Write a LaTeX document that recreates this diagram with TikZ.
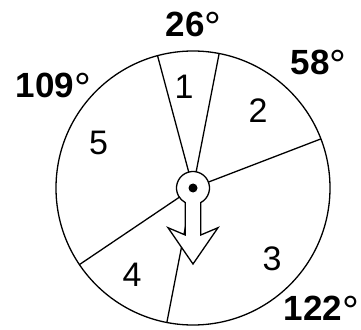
\documentclass[tikz,border=0pt]{standalone}
\usepackage{fontspec}
\setmainfont{Liberation Sans}
\usetikzlibrary{positioning,calc}
\newcommand{\dg}{{\fontsize{42}{42}\selectfont\mdseries\raisebox{-5pt}[25pt][0pt]{°}}}

\begin{document}
\begin{tikzpicture}[x=1pt,y=1pt,line width=1.3pt,
  angle/.style={anchor=base west,inner sep=0pt,font=\fontsize{35}{38}\selectfont\bfseries},
  sector/.style={inner sep=0pt,font=\fontsize{34}{37}\selectfont}]
\useasboundingbox (-193,-141) rectangle (168,188);
\coordinate (c) at (0,0);
\draw (c) circle (137);
\foreach \a/\n in {21/r1,79/r2,105/r3,214/r4,259/r5}
  \coordinate (\n) at (\a:137);
\foreach \n in {r1,r2,r3,r4,r5}
  \draw (c) -- (\n);
\draw[fill=white] (-62:16.5) arc[start angle=-62,end angle=242,radius=16.5] -- (-7.75,-47) -- (-25,-39.7) -- (0,-76) -- (25,-39.7) -- (7.75,-47) -- cycle;
\fill (c) circle (4.5);
\node[sector] (s1) at (-9,101) {1};
\node[sector] (s2) at (65,77) {2};
\node[sector] (s3) at (79,-71) {3};
\node[sector] (s4) at (-61,-87) {4};
\node[sector] (s5) at (-94.5,45.5) {5};
\node[angle] (a26) at (-28,151) {26\dg};
\node[angle] (a58) at (97,113) {58\dg};
\node[angle] (a109) at (-178,90) {109\dg};
\node[angle] (a122) at (90,-132) {122\dg};
\end{tikzpicture}
\end{document}
